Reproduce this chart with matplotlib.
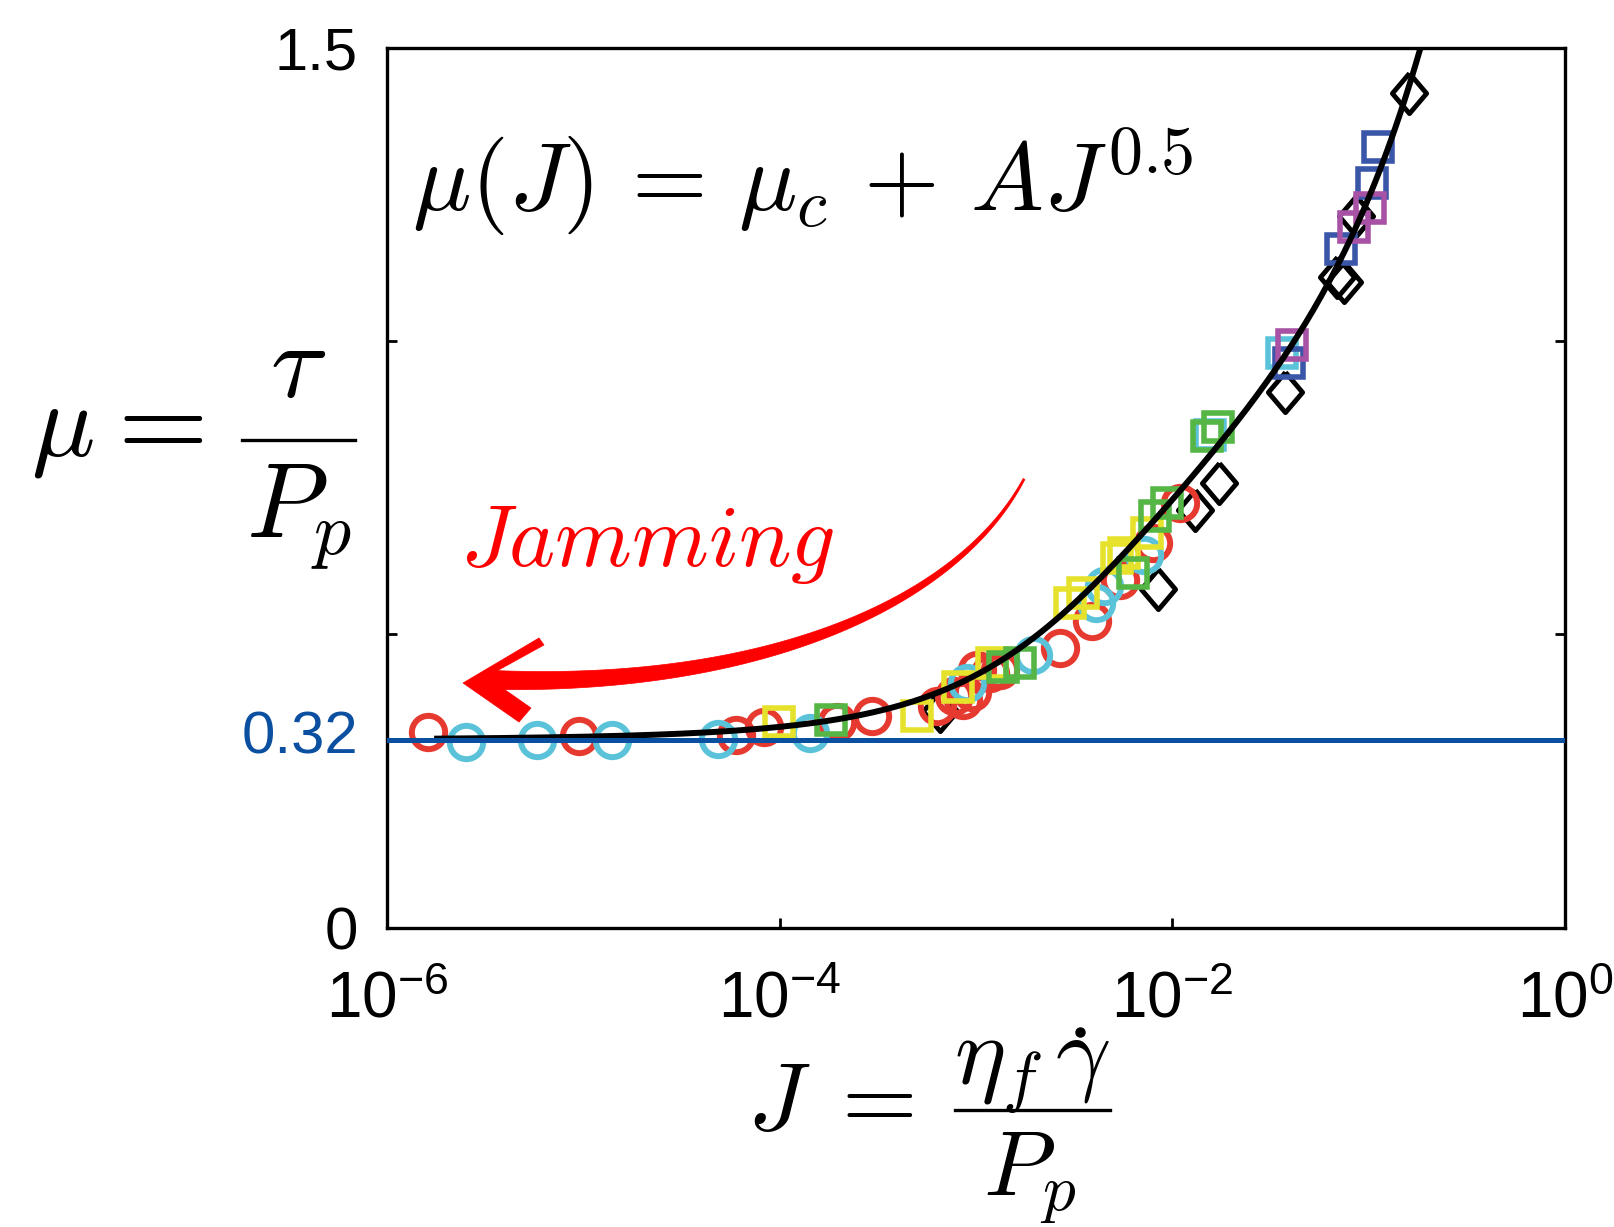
import numpy as np
import matplotlib
matplotlib.use("Agg")
import matplotlib.pyplot as plt
import matplotlib.transforms as mtransforms
from matplotlib.patches import Polygon
from matplotlib.lines import Line2D

# ---------------- data ----------------
red_circle_J = [1.61e-6, 9.55e-6, 6.0e-5, 8.3e-5, 1.95e-4, 2.95e-4, 6.3e-4, 7.7e-4,
                8.6e-4, 9.5e-4, 1.01e-3, 1.18e-3, 1.32e-3, 2.68e-3, 3.89e-3,
                5.42e-3, 8.0e-3, 1.10e-2]
red_circle_mu = [0.334, 0.327, 0.328, 0.342, 0.351, 0.360, 0.377, 0.394,
                 0.388, 0.402, 0.439, 0.434, 0.439, 0.476, 0.522,
                 0.593, 0.655, 0.724]

cyan_circle_J = [2.53e-6, 5.79e-6, 1.40e-5, 4.87e-5, 1.43e-4, 8.98e-4, 1.96e-3,
                 4.1e-3, 4.5e-3, 7.2e-3]
cyan_circle_mu = [0.316, 0.319, 0.320, 0.321, 0.331, 0.417, 0.465,
                  0.554, 0.583, 0.636]

yellow_square_J = [9.96e-5, 4.99e-4, 8.13e-4, 1.20e-3, 3.01e-3, 3.52e-3,
                   5.24e-3, 5.64e-3, 7.41e-3]
yellow_square_mu = [0.351, 0.361, 0.411, 0.451, 0.553, 0.570,
                    0.630, 0.638, 0.672]

green_square_J = [1.83e-4, 1.38e-3, 1.68e-3, 6.34e-3, 8.17e-3, 9.37e-3, 1.51e-2, 1.71e-2]
green_square_mu = [0.354, 0.445, 0.451, 0.604, 0.701, 0.724, 0.839, 0.853]

cyan_square_J = [1.56e-2, 3.61e-2]
cyan_square_mu = [0.840, 0.979]

blue_square_J = [3.91e-2, 7.21e-2, 0.104, 0.111]
blue_square_mu = [0.962, 1.158, 1.270, 1.332]

magenta_square_J = [4.06e-2, 8.43e-2, 0.102]
magenta_square_mu = [0.994, 1.195, 1.227]

black_diamond_J = [6.56e-4, 8.47e-3, 1.31e-2, 1.72e-2, 3.76e-2, 6.89e-2, 7.45e-2,
                   8.6e-2, 0.161]
black_diamond_mu = [0.370, 0.577, 0.712, 0.758, 0.914, 1.110, 1.101,
                    1.214, 1.423]

# fitted constitutive law (parameters of the drawn model curve)
mu_c = 0.32
mu_2 = 0.70
J_0 = 0.005
phi_m = 0.585
J_curve_min, J_curve_max = 1.8e-6, 0.3

x_ticks = [1e-6, 1e-4, 1e-2, 1e0]
x_tick_labels = [r"$10^{-6}$", r"$10^{-4}$", r"$10^{-2}$", r"$10^{0}$"]
y_ticks = [0, 0.32, 0.5, 1.0, 1.5]
y_tick_labels = ["0", "0.32", "", "", "1.5"]

# ---------------- figure ----------------
W, H, DPI = 1614, 1227, 100
plt.rcParams["font.family"] = ["Liberation Sans", "DejaVu Sans"]
plt.rcParams["mathtext.fontset"] = "cm"
plt.rcParams["mathtext.rm"] = "Liberation Sans"
plt.rcParams["mathtext.it"] = "Liberation Sans:italic"
plt.rcParams["mathtext.bf"] = "Liberation Sans:bold"
plt.rcParams["mathtext.sf"] = "Liberation Sans"

fig = plt.figure(figsize=(W / DPI, H / DPI), dpi=DPI)
L, R, T, B = 387, 1565, 48, 927.5
ax = fig.add_axes([L / W, (H - B) / H, (R - L) / W, (B - T) / H])

BLUE = "#0b4fa0"
RED_C = "#e63a30"
CYAN = "#5bc3d9"
YELLOW = "#e6e22c"
GREEN = "#55b646"
BLUE_SQ = "#3a56a8"
MAGENTA = "#a852a6"

ax.set_xscale("log")
ax.set_xlim(1e-6, 1e0)
ax.set_ylim(0, 1.5)

circ_ms, circ_mew = 24, 4.3
sq_ms, sq_mew = 20, 4.0
diamond = [(0, 1), (0.85, 0), (0, -1), (-0.85, 0), (0, 1)]

ax.plot(black_diamond_J, black_diamond_mu, ls="none", marker=diamond, ms=29,
        mfc="none", mec="black", mew=3.5, zorder=2)
ax.plot(red_circle_J, red_circle_mu, ls="none", marker="o", ms=circ_ms,
        mfc="none", mec=RED_C, mew=circ_mew, zorder=2)
ax.plot(cyan_circle_J, cyan_circle_mu, ls="none", marker="o", ms=circ_ms,
        mfc="none", mec=CYAN, mew=circ_mew, zorder=2)
ax.plot(yellow_square_J, yellow_square_mu, ls="none", marker="s", ms=sq_ms,
        mfc="none", mec=YELLOW, mew=sq_mew, zorder=2)
ax.plot(cyan_square_J, cyan_square_mu, ls="none", marker="s", ms=sq_ms,
        mfc="none", mec=CYAN, mew=sq_mew, zorder=2)
ax.plot(green_square_J, green_square_mu, ls="none", marker="s", ms=sq_ms,
        mfc="none", mec=GREEN, mew=sq_mew, zorder=2)
ax.plot(blue_square_J, blue_square_mu, ls="none", marker="s", ms=sq_ms,
        mfc="none", mec=BLUE_SQ, mew=sq_mew, zorder=2)
ax.plot(magenta_square_J, magenta_square_mu, ls="none", marker="s", ms=sq_ms,
        mfc="none", mec=MAGENTA, mew=sq_mew, zorder=2)

Jc = np.logspace(np.log10(J_curve_min), np.log10(J_curve_max), 400)
mu_curve = mu_c + (mu_2 - mu_c) / (1 + J_0 / Jc) + Jc + 2.5 * phi_m * np.sqrt(Jc)
ax.plot(Jc, mu_curve, color="black", lw=4.3, zorder=3)
ax.axhline(mu_c, color=BLUE, lw=3.6, zorder=4)

for s in ax.spines.values():
    s.set_linewidth(2.4)
ax.minorticks_off()
ax.set_xticks(x_ticks)
ax.set_xticklabels(x_tick_labels)
ax.set_yticks(y_ticks)
ax.set_yticklabels(y_tick_labels)
ax.tick_params(axis="both", direction="in", length=7.5, width=2)
ax.tick_params(axis="y", right=True, pad=21, labelsize=43)
ax.tick_params(axis="x", top=False, pad=31, labelsize=46)
for t in ax.get_xticklabels():
    t.set_math_fontfamily("custom")
for t in ax.get_yticklabels():
    if t.get_text() == "0.32":
        t.set_color(BLUE)
        t.set_transform(t.get_transform() +
                        mtransforms.ScaledTranslation(0, 6 / 72, fig.dpi_scale_trans))

def fx(x):
    return x / W

def fy(y):
    return 1 - y / H

# formula and annotation (Computer Modern)
fig.text(fx(412), fy(211), r"$\mu(J)\,=\,\mu_c\,+\,AJ^{0.5}$", fontsize=70,
         ha="left", va="baseline", math_fontfamily="cm")
fig.text(fx(460), fy(566), r"$Jamming$", fontsize=63, color="red",
         ha="left", va="baseline", math_fontfamily="cm")

# y label: mu = tau / P_p
fig.text(fx(31), fy(456), r"$\mu$", fontsize=76, ha="left", va="baseline",
         math_fontfamily="cm")
fig.text(fx(150), fy(456), r"$=$", fontsize=84, ha="center", va="baseline",
         math_fontfamily="cm")
fig.lines.append(Line2D([fx(242), fx(355)], [fy(440), fy(440)], lw=2.4,
                        color="black", transform=fig.transFigure, figure=fig))
fig.text(fx(298), fy(397), r"$\tau$", fontsize=76, ha="center", va="baseline",
         math_fontfamily="cm")
fig.text(fx(299), fy(537), r"$P_p$", fontsize=76, ha="center", va="baseline",
         math_fontfamily="cm")

# x label: J = eta_f gamma_dot / P_p  (dot accent drawn as a small mark)
fig.text(fx(747), fy(1130), r"$J\;=$", fontsize=70, ha="left", va="baseline",
         math_fontfamily="cm")
fig.lines.append(Line2D([fx(955), fx(1110)], [fy(1110), fy(1110)], lw=2.4,
                        color="black", transform=fig.transFigure, figure=fig))
fig.text(fx(1032), fy(1083), r"$\eta_f\,\gamma$", fontsize=70, ha="center",
         va="baseline", math_fontfamily="cm")
fig.lines.append(Line2D([fx(1080)], [fy(1032)], ls="none", marker="o", ms=6.5,
                        color="black", transform=fig.transFigure, figure=fig))
fig.text(fx(1030), fy(1196), r"$P_p$", fontsize=67, ha="center", va="baseline",
         math_fontfamily="cm")

# tapered curved arrow (pixel geometry of the annotation)
P0 = np.array([1024.0, 479.0])
P1 = np.array([960.0, 600.0])
P2 = np.array([770.0, 688.0])
P3 = np.array([494.0, 680.0])
t = np.linspace(0, 1, 200)[:, None]
pts = (1 - t) ** 3 * P0 + 3 * t * (1 - t) ** 2 * P1 + 3 * t ** 2 * (1 - t) * P2 + t ** 3 * P3
d = (-3 * (1 - t) ** 2 * P0 + 3 * ((1 - t) ** 2 - 2 * t * (1 - t)) * P1
     + 3 * (2 * t * (1 - t) - t ** 2) * P2 + 3 * t ** 2 * P3)
d = d / np.linalg.norm(d, axis=1, keepdims=True)
nrm = np.column_stack([-d[:, 1], d[:, 0]])
w = (1.0 + 8.5 * t[:, 0] ** 1.2)[:, None]
left = pts + nrm * w
right = pts - nrm * w
shaft = np.vstack([left, right[::-1]])
head = np.array([[463, 683], [539, 638], [544, 645], [495, 672],
                 [501, 687], [531, 708], [519, 722]], dtype=float)
for poly in (shaft, head):
    fpts = np.column_stack([fx(poly[:, 0]), fy(poly[:, 1])])
    fig.patches.append(Polygon(fpts, closed=True, facecolor="red", edgecolor="red",
                               lw=0.5, transform=fig.transFigure, figure=fig))

fig.savefig("out.png", dpi=DPI)
